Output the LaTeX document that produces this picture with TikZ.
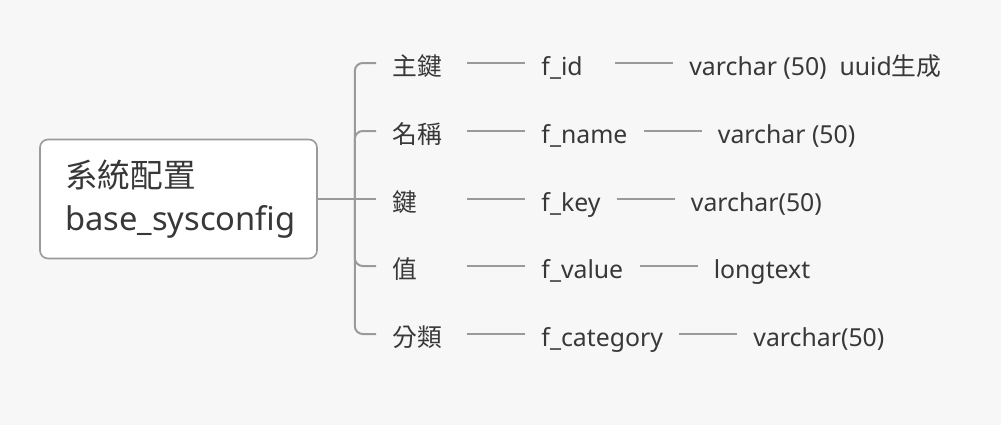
\documentclass[tikz,border=0pt]{standalone}
\usepackage{fontspec}
\setmainfont{Noto Sans}
\newfontfamily\cjk{Noto Sans CJK TC}
\usepackage{xcolor}
\usetikzlibrary{positioning}
\definecolor{bgcol}{HTML}{F7F7F7}
\definecolor{inkcol}{HTML}{383838}
\definecolor{linecol}{HTML}{9A9A9A}

\begin{document}
\begin{tikzpicture}[
    x=0.75pt, y=-0.75pt,
    node distance=43.5pt,
    line/.style={draw=linecol, line width=1.5pt},
    root/.style={draw=linecol, line width=1.2pt, fill=white, rounded corners=6pt,
                 minimum width=207.75pt, minimum height=89.25pt, inner xsep=18.75pt,
                 text width=170pt, align=left, text=inkcol,
                 font=\fontsize{24.5}{32.5}\selectfont},
    lab/.style={inner xsep=12pt, inner ysep=0pt, text height=20pt, text depth=2pt,
                text=inkcol, font=\fontsize{18.6}{22}\selectfont},
    key/.style={lab, anchor=west, text width=44pt, font=\cjk\fontsize{18.6}{22}\selectfont},
    col/.style={lab, right=of #1},
]
% background and page size
\fill[bgcol] (0,0) rectangle (1001,425);
\useasboundingbox (0,0) rectangle (1001,425);

% the table
\node[root] (sys) at (178.5,199) {{\cjk 系統配置}\\base\_sysconfig};
\coordinate[right=27.75pt of sys.east] (trunk);

% column names in chinese
\node[key] (k1) at (376,63)  {主鍵};
\node[key] (k2) at (376,131) {名稱};
\node[key] (k3) at (376,199) {鍵};
\node[key] (k4) at (376,266) {值};
\node[key] (k5) at (376,334) {分類};

% field names
\node[col=k1, text width=43pt] (f1) {f\_id};
\node[col=k2] (f2) {f\_name};
\node[col=k3] (f3) {f\_key};
\node[col=k4] (f4) {f\_value};
\node[col=k5] (f5) {f\_category};

% field types
\node[col=f1] (t1) {varchar (50)\ \ uuid{\cjk 生成}};
\node[col=f2] (t2) {varchar (50)};
\node[col=f3] (t3) {varchar(50)};
\node[col=f4] (t4) {longtext};
\node[col=f5] (t5) {varchar(50)};

% tree lines
\draw[line] (sys.east) -- (trunk);
\draw[line] (trunk) -- (k3.west);
\foreach \i in {1,2,4,5}
  \draw[line, rounded corners=6pt] (trunk) |- (k\i.west);
\foreach \i in {1,...,5} {
  \draw[line] (k\i.east) -- (f\i.west);
  \draw[line] (f\i.east) -- (t\i.west);
}
\end{tikzpicture}
\end{document}
